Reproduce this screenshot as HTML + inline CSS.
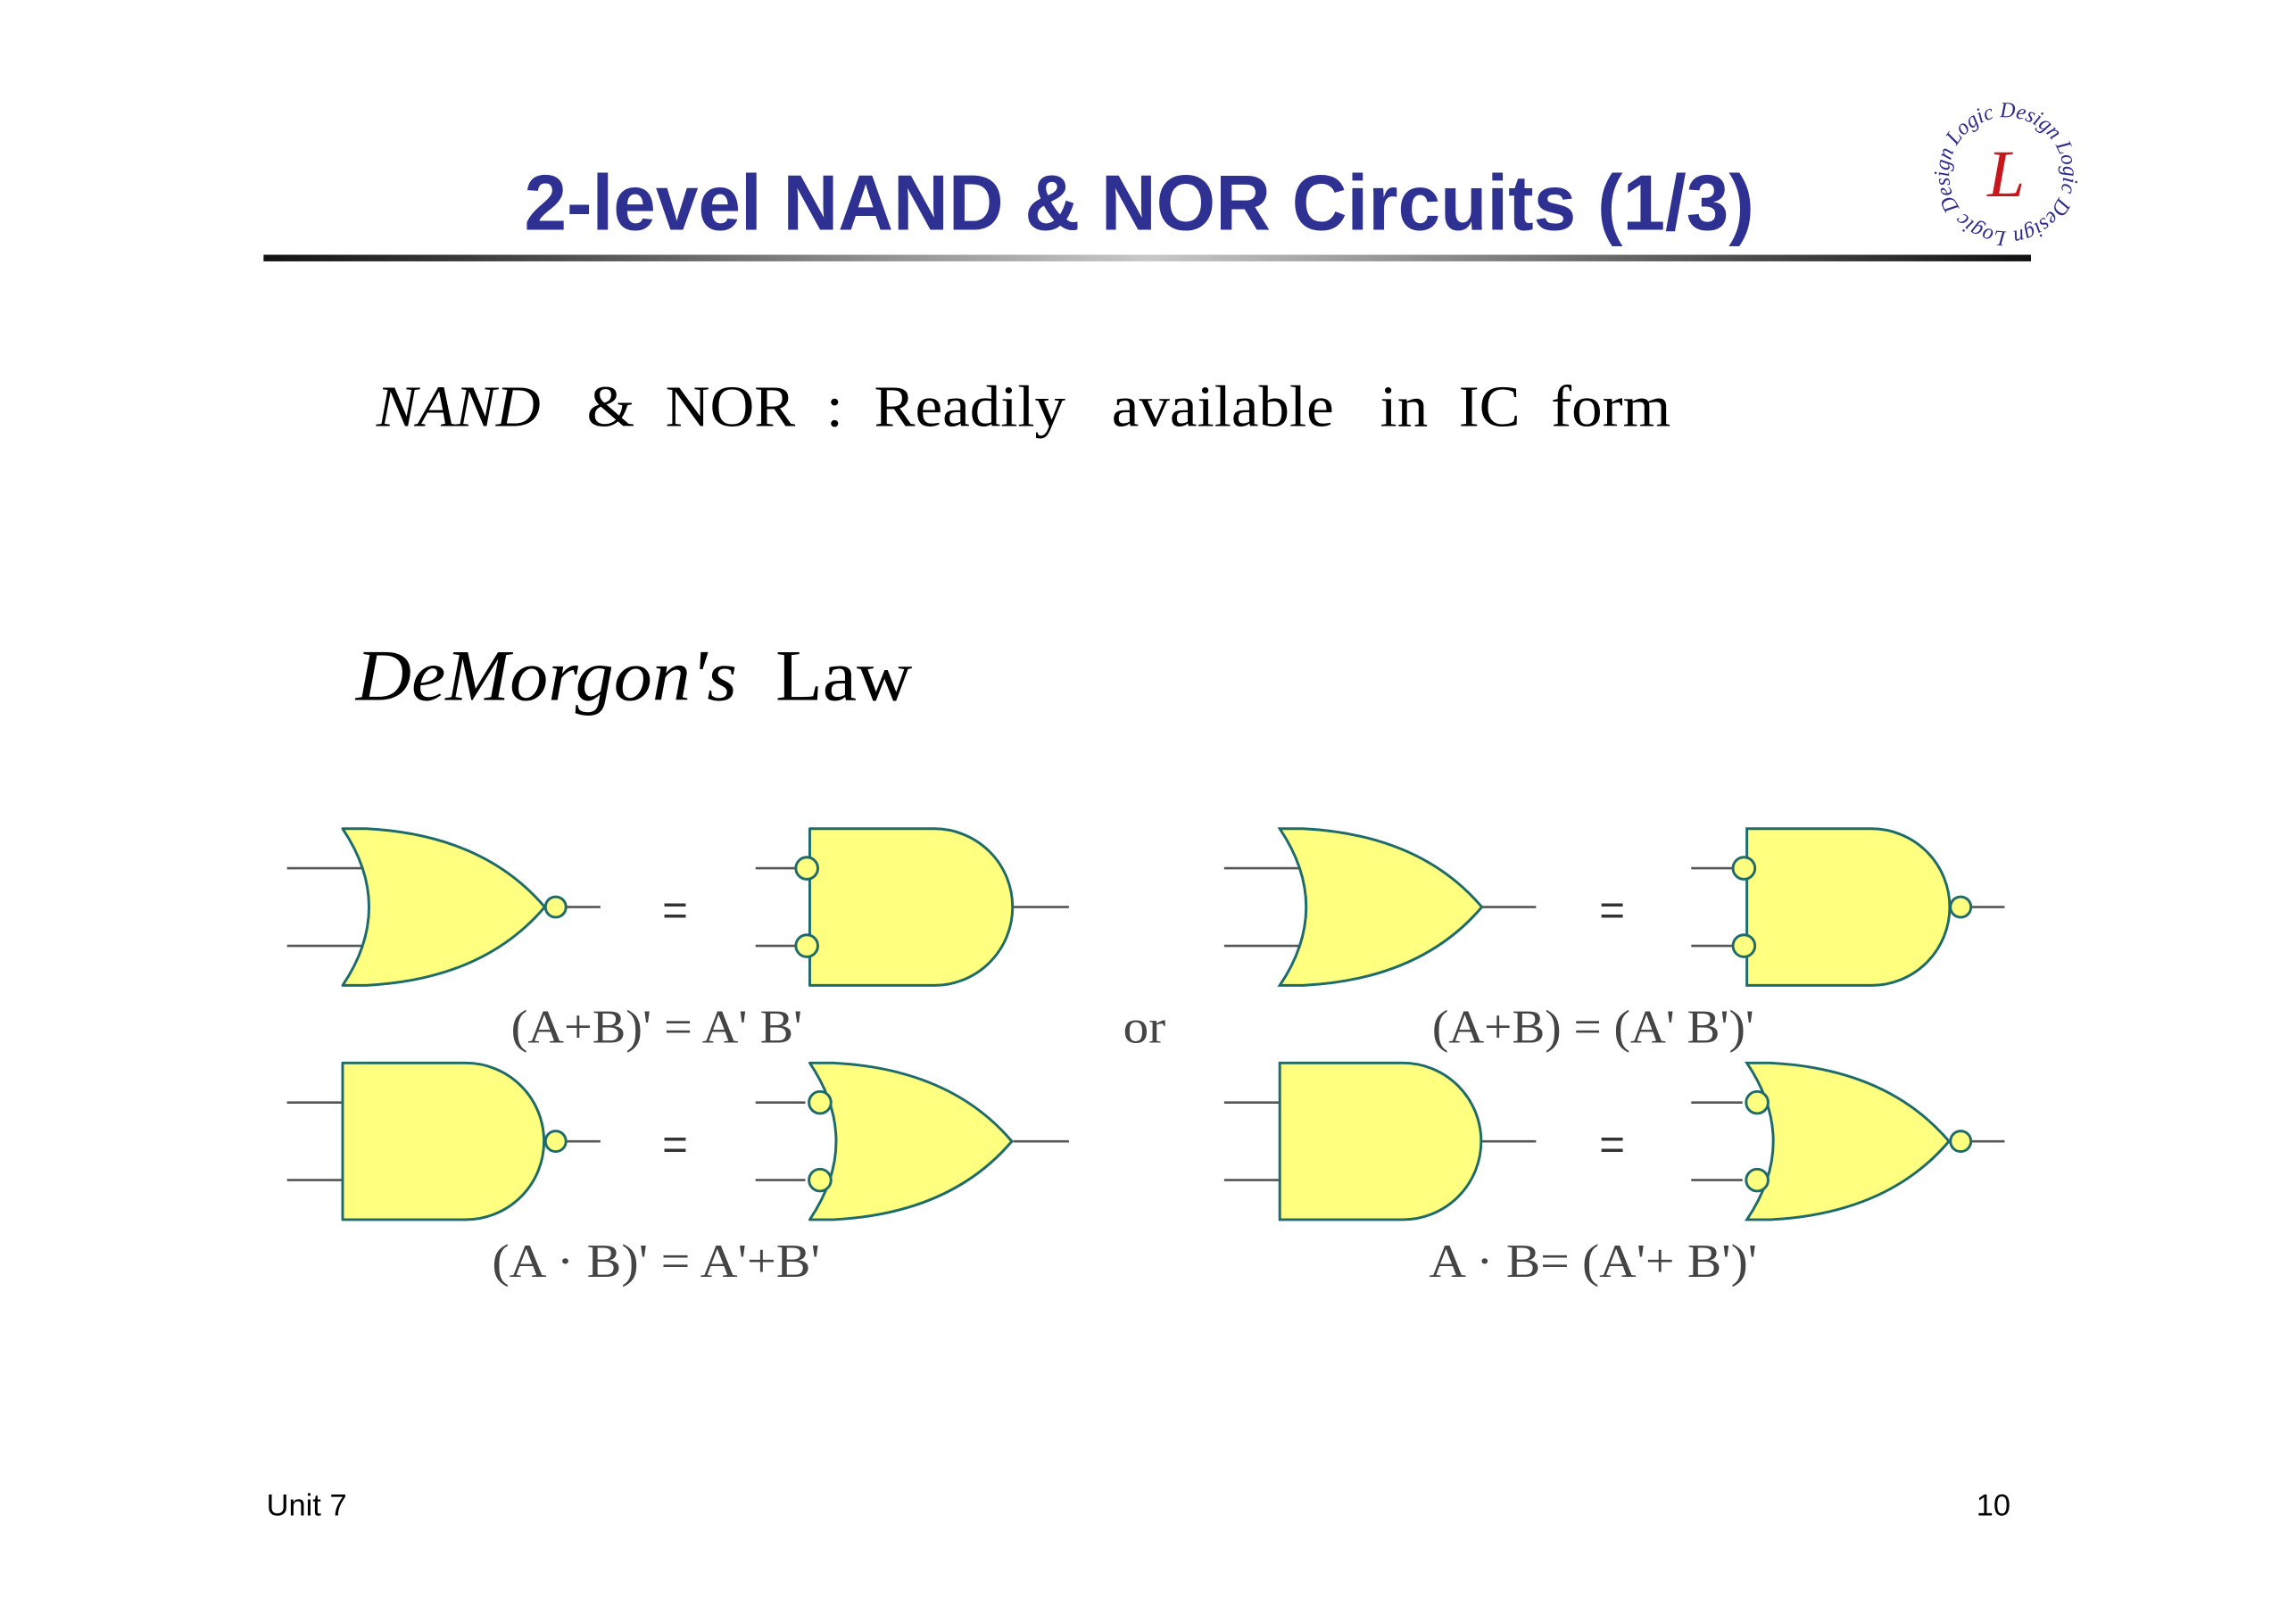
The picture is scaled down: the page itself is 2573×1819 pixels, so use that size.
<!DOCTYPE html>
<html><head><meta charset="utf-8"><style>
html,body{margin:0;padding:0;background:#fff;}
svg{display:block;}
</style></head><body>
<svg width="2573" height="1819" viewBox="0 0 1568 1108.5" preserveAspectRatio="none" xmlns="http://www.w3.org/2000/svg">
<defs>
<linearGradient id="rule" x1="0" x2="1" y1="0" y2="0">
<stop offset="0" stop-color="#111"/><stop offset="0.5" stop-color="#c8c8c8"/><stop offset="1" stop-color="#111"/>
</linearGradient>
<path id="ring" d="M1370,158 A39,39 0 1 1 1370.1,158"/>
</defs>
<rect width="1568" height="1108.5" fill="#fff"/>
<text x="358" y="157" textLength="840" lengthAdjust="spacingAndGlyphs" font-family="Liberation Sans, sans-serif" font-weight="bold" font-size="54" fill="#2e3192">2-level NAND &amp; NOR Circuits (1/3)</text>
<rect x="180" y="174" width="1207" height="4.5" fill="url(#rule)"/>
<text font-family="Liberation Serif, serif" font-style="italic" font-size="15" fill="#2a2a8a"><textPath href="#ring" textLength="240" lengthAdjust="spacingAndGlyphs">Logic Design Logic Design Logic Design</textPath></text>
<text x="1370" y="134" text-anchor="middle" font-family="Liberation Serif, serif" font-style="italic" font-size="46" fill="#c8161d">L</text>
<text x="257" y="291" textLength="884" lengthAdjust="spacingAndGlyphs" font-family="Liberation Serif, serif" font-size="40" fill="#000" xml:space="preserve"><tspan font-style="italic">NAND</tspan>   &amp;  NOR  :  Readily   available   in  IC  form</text>
<text x="243" y="478" textLength="380" lengthAdjust="spacingAndGlyphs" font-family="Liberation Serif, serif" font-size="50" fill="#000" xml:space="preserve"><tspan font-style="italic">DeMorgon's</tspan>  Law</text>

<g stroke-linejoin="round">
 <g stroke="#555" stroke-width="1.6">
  <line x1="196" y1="593" x2="250" y2="593"/><line x1="196" y1="646" x2="250" y2="646"/>
  <line x1="386" y1="619.5" x2="410" y2="619.5"/>
  <line x1="516" y1="593" x2="545" y2="593"/><line x1="516" y1="646" x2="545" y2="646"/>
  <line x1="692" y1="619.5" x2="730" y2="619.5"/>
  <line x1="196" y1="753" x2="234" y2="753"/><line x1="196" y1="806" x2="234" y2="806"/>
  <line x1="386" y1="779.5" x2="410" y2="779.5"/>
  <line x1="516" y1="753" x2="550" y2="753"/><line x1="516" y1="806" x2="550" y2="806"/>
  <line x1="692" y1="779.5" x2="730" y2="779.5"/>
 </g>
 <g fill="#ffff80" stroke="#1f6b6b" stroke-width="1.8">
  <path d="M234,566 L250,566 Q330,570 372,619.5 Q330,669 250,673 L234,673 Q270,619.5 234,566 Z"/>
  <circle cx="379.5" cy="619.5" r="7"/>
  <path d="M553,566 L638,566 A53.5,53.5 0 0 1 638,673 L553,673 Z"/>
  <circle cx="551" cy="593" r="7.5"/><circle cx="551" cy="646" r="7.5"/>
  <path d="M234,726 L318,726 A53.5,53.5 0 0 1 318,833 L234,833 Z"/>
  <circle cx="379.5" cy="779.5" r="7"/>
  <path d="M553,726 L569,726 Q649,730 691,779.5 Q649,829 569,833 L553,833 Q589,779.5 553,726 Z"/>
  <circle cx="560" cy="753" r="7.5"/><circle cx="560" cy="806" r="7.5"/>
 </g>
 <text x="461" y="632" text-anchor="middle" font-family="Liberation Sans, sans-serif" font-size="30" fill="#333">=</text>
 <text x="461" y="792" text-anchor="middle" font-family="Liberation Sans, sans-serif" font-size="30" fill="#333">=</text>
</g>
<g>
 <g stroke="#555" stroke-width="1.6">
  <line x1="836" y1="593" x2="890" y2="593"/><line x1="836" y1="646" x2="890" y2="646"/>
  <line x1="1012" y1="619.5" x2="1049" y2="619.5"/>
  <line x1="1155" y1="593" x2="1185" y2="593"/><line x1="1155" y1="646" x2="1185" y2="646"/>
  <line x1="1346" y1="619.5" x2="1369" y2="619.5"/>
  <line x1="836" y1="753" x2="874" y2="753"/><line x1="836" y1="806" x2="874" y2="806"/>
  <line x1="1012" y1="779.5" x2="1049" y2="779.5"/>
  <line x1="1155" y1="753" x2="1190" y2="753"/><line x1="1155" y1="806" x2="1190" y2="806"/>
  <line x1="1346" y1="779.5" x2="1369" y2="779.5"/>
 </g>
 <g fill="#ffff80" stroke="#1f6b6b" stroke-width="1.8">
  <path d="M874,566 L890,566 Q970,570 1012,619.5 Q970,669 890,673 L874,673 Q910,619.5 874,566 Z"/>
  <path d="M1193,566 L1278,566 A53.5,53.5 0 0 1 1278,673 L1193,673 Z"/>
  <circle cx="1191" cy="593" r="7.5"/><circle cx="1191" cy="646" r="7.5"/>
  <circle cx="1339" cy="619.5" r="7"/>
  <path d="M874,726 L958,726 A53.5,53.5 0 0 1 958,833 L874,833 Z"/>
  <path d="M1193,726 L1209,726 Q1289,730 1331,779.5 Q1289,829 1209,833 L1193,833 Q1229,779.5 1193,726 Z"/>
  <circle cx="1200" cy="753" r="7.5"/><circle cx="1200" cy="806" r="7.5"/>
  <circle cx="1339" cy="779.5" r="7"/>
 </g>
 <text x="1101" y="632" text-anchor="middle" font-family="Liberation Sans, sans-serif" font-size="30" fill="#333">=</text>
 <text x="1101" y="792" text-anchor="middle" font-family="Liberation Sans, sans-serif" font-size="30" fill="#333">=</text>
</g>
<g font-family="Liberation Serif, serif" font-size="32" fill="#444">
 <text x="349" y="712" textLength="199" lengthAdjust="spacingAndGlyphs">(A+B)' = A' B'</text>
 <text x="767" y="712" textLength="29" lengthAdjust="spacingAndGlyphs">or</text>
 <text x="978" y="712" textLength="220" lengthAdjust="spacingAndGlyphs">(A+B) = (A' B')'</text>
 <text x="336" y="872" textLength="224" lengthAdjust="spacingAndGlyphs">(A · B)' = A'+B'</text>
 <text x="976" y="872" textLength="224" lengthAdjust="spacingAndGlyphs">A · B= (A'+ B')'</text>
</g>
<text x="182" y="1035" font-family="Liberation Sans, sans-serif" font-size="21" fill="#000">Unit 7</text>
<text x="1373" y="1035" text-anchor="end" font-family="Liberation Sans, sans-serif" font-size="21" fill="#000">10</text>
</svg>
</body></html>
